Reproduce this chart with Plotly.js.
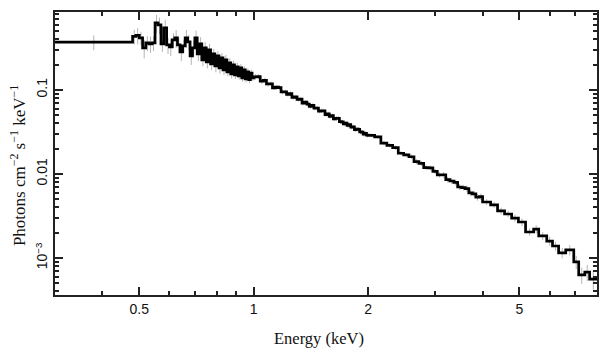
<!DOCTYPE html>
<html>
<head>
<meta charset="utf-8">
<script src="https://cdn.plot.ly/plotly-3.0.1.min.js"></script>
<style>
  html, body { margin: 0; padding: 0; background: #fff; }
  #chart { width: 609px; height: 357px; }
</style>
</head>
<body>
<div id="chart"></div>
<script>
// Bin edges (keV)
const binEdges = [
  0.30,
  0.48, 0.49, 0.50, 0.51, 0.52, 0.53, 0.54, 0.55, 0.56, 0.57, 0.58, 0.59, 0.60,
  0.61, 0.62, 0.63, 0.64, 0.65, 0.66, 0.67, 0.68, 0.69, 0.70, 0.71, 0.72, 0.73,
  0.74, 0.75, 0.76, 0.77, 0.78, 0.79, 0.80, 0.81, 0.82, 0.83, 0.84, 0.85, 0.86,
  0.87, 0.88, 0.89, 0.90, 0.91, 0.92, 0.93, 0.94, 0.95, 0.96, 0.97, 0.98, 0.99, 1.00,
  1.02, 1.04, 1.06, 1.08, 1.10, 1.12, 1.14, 1.16, 1.18, 1.20, 1.22, 1.24, 1.26,
  1.28, 1.30, 1.32, 1.34, 1.36, 1.38, 1.40, 1.42, 1.44, 1.46, 1.48, 1.50, 1.52,
  1.54, 1.56, 1.58, 1.60, 1.62, 1.64, 1.66, 1.68, 1.70, 1.72, 1.74, 1.76, 1.78,
  1.80, 1.82, 1.84, 1.86, 1.88, 1.90, 1.92, 1.94, 1.96, 1.98, 2.00,
  2.08, 2.16, 2.24, 2.32, 2.40, 2.48, 2.56, 2.64, 2.72, 2.80, 2.88, 2.96, 3.04,
  3.12, 3.20, 3.28, 3.36, 3.44, 3.52, 3.60, 3.68, 3.76, 3.84, 3.92, 4.00,
  4.20, 4.38, 4.57, 4.77, 4.97, 5.19, 5.45, 5.62, 5.90, 6.11, 6.34, 6.62, 6.95,
  7.16, 7.43, 7.65, 8.00
];

// Unfolded flux per bin (photons cm^-2 s^-1 keV^-1)
const fluxValues = [
  0.370,
  0.434, 0.446, 0.416, 0.316, 0.363, 0.353, 0.363, 0.627, 0.594, 0.353, 0.547, 0.343,
  0.325, 0.394, 0.416, 0.343, 0.283, 0.334, 0.416, 0.373, 0.254, 0.316,
  0.416, 0.268, 0.353, 0.228, 0.316, 0.215, 0.299, 0.204, 0.268, 0.193,
  0.254, 0.183, 0.240, 0.173, 0.228, 0.164, 0.210, 0.155, 0.199, 0.151,
  0.188, 0.147, 0.183, 0.139, 0.173, 0.135, 0.164, 0.132, 0.159, 0.139,
  0.143, 0.144, 0.127, 0.130, 0.1175, 0.1183, 0.1058, 0.1078, 0.1066, 0.0947,
  0.0947, 0.0885, 0.0905, 0.0813, 0.0824, 0.0771, 0.0775, 0.0697, 0.0715, 0.0678,
  0.0636, 0.0653, 0.0608, 0.0607, 0.0559, 0.0564, 0.0563, 0.0509, 0.0520, 0.0485,
  0.0494, 0.0453, 0.0458, 0.0459, 0.0420, 0.0417, 0.0394, 0.0403, 0.0377, 0.0386,
  0.0361, 0.0363, 0.0337, 0.0341, 0.0340, 0.0316, 0.0314, 0.0297, 0.0305, 0.0289,
  0.02880, 0.02757, 0.02333, 0.02190, 0.02056, 0.01764, 0.01688, 0.01602, 0.01401,
  0.01334, 0.01189, 0.01182, 0.01074, 0.00976, 0.00978, 0.00855, 0.00825, 0.00796,
  0.00700, 0.00689, 0.00668, 0.00597, 0.00581, 0.00528, 0.00537,
  0.00464, 0.00428, 0.00363, 0.00334, 0.00299, 0.00268, 0.00204, 0.00221, 0.00183,
  0.00159, 0.00139, 0.00115, 0.00125, 0.00090, 0.00063, 0.00068, 0.00056
];

// Fractional 1-sigma error per bin
const fluxErrFrac = [
  0.20,
  0.20, 0.22, 0.18, 0.25, 0.20, 0.22, 0.20, 0.24, 0.22, 0.20,
  0.25, 0.22, 0.22, 0.20, 0.24, 0.20, 0.22, 0.18, 0.24, 0.20,
  0.22, 0.20, 0.22, 0.18, 0.20, 0.16, 0.18, 0.16, 0.18, 0.16,
  0.15, 0.16, 0.14, 0.15, 0.14, 0.13, 0.14, 0.12, 0.13, 0.12,
  0.12, 0.11, 0.12, 0.10, 0.11, 0.10, 0.10, 0.09, 0.10, 0.09,
  0.09, 0.08,
  0.08, 0.07, 0.07, 0.07, 0.07, 0.06, 0.06, 0.06, 0.06, 0.06,
  0.06, 0.06, 0.06, 0.06, 0.06, 0.06, 0.06, 0.06, 0.06, 0.06,
  0.06, 0.06, 0.06, 0.06, 0.06, 0.06, 0.06, 0.06, 0.06, 0.06,
  0.06, 0.06, 0.06, 0.06, 0.06, 0.06, 0.06, 0.06, 0.06, 0.06,
  0.06, 0.06, 0.06, 0.06, 0.06, 0.06, 0.06, 0.06, 0.06, 0.06,
  0.05, 0.05, 0.06, 0.06, 0.06, 0.06, 0.06, 0.06, 0.07, 0.07,
  0.07, 0.07, 0.07, 0.07, 0.08, 0.08, 0.08, 0.08, 0.08, 0.08,
  0.09, 0.09, 0.09, 0.09, 0.09,
  0.08, 0.08, 0.09, 0.09, 0.10, 0.10, 0.10, 0.11, 0.11, 0.12,
  0.12, 0.14, 0.14, 0.18, 0.22, 0.22, 0.25
];

const xTickVals = [0.5, 1, 2, 5];
const xTickText = ['0.5', '1', '2', '5'];
const xMinorVals = [0.3, 0.4, 0.6, 0.7, 0.8, 0.9, 3, 4, 6, 7, 8];
const yTickVals = [0.001, 0.01, 0.1];
const yTickText = ['10<sup>\u22123</sup>', '0.01', '0.1'];
const yMinorVals = [0.0004, 0.0005, 0.0006, 0.0007, 0.0008, 0.0009,
  0.002, 0.003, 0.004, 0.005, 0.006, 0.007, 0.008, 0.009,
  0.02, 0.03, 0.04, 0.05, 0.06, 0.07, 0.08, 0.09,
  0.2, 0.3, 0.4, 0.5, 0.6, 0.7, 0.8];

const xRange = [0.3, 8.0];
const yRange = [3.63e-4, 0.845];
const xTitle = 'Energy (keV)';
const yTitle = 'Photons cm<sup>\u22122</sup> s<sup>\u22121</sup> keV<sup>\u22121</sup>';

// derived
const nBins = Math.min(fluxValues.length, binEdges.length - 1);
const flux = fluxValues.slice(0, nBins);
const edges = binEdges.slice(0, nBins + 1);
const centers = flux.map((v, i) => Math.sqrt(edges[i] * edges[i + 1]));
const errs = flux.map((v, i) => v * (fluxErrFrac[i] || 0.06));
const stepY = flux.concat([flux[flux.length - 1]]);

const errTrace = {
  x: centers, y: flux, type: 'scatter', mode: 'markers',
  marker: { size: 1, color: 'rgba(0,0,0,0)' },
  error_y: { type: 'data', array: errs, visible: true, color: '#b4b4b4', thickness: 1, width: 0 },
  hoverinfo: 'skip', showlegend: false
};
const stepTrace = {
  x: edges, y: stepY, type: 'scatter', mode: 'lines',
  line: { shape: 'hv', color: '#000', width: 2.7 },
  showlegend: false
};

const axisCommon = {
  showline: true, linewidth: 2, linecolor: '#222', mirror: 'allticks',
  ticks: 'inside', tickwidth: 2, tickcolor: '#222',
  showgrid: false, zeroline: false,
  tickfont: { family: 'Liberation Sans, Arial, sans-serif', size: 14, color: '#111' }
};
const serif = 'Liberation Serif, Times New Roman, serif';

const layout = {
  width: 609, height: 357,
  margin: { l: 55, r: 12, t: 12, b: 62 },
  paper_bgcolor: '#fff', plot_bgcolor: '#fff',
  showlegend: false,
  xaxis: Object.assign({}, axisCommon, {
    type: 'log', range: [Math.log10(xRange[0]), Math.log10(xRange[1])],
    tickmode: 'array', tickvals: xTickVals, ticktext: xTickText, ticklen: 8,
    minor: { tickmode: 'array', tickvals: xMinorVals, ticks: 'inside', ticklen: 4, tickwidth: 2, tickcolor: '#222' }
  }),
  yaxis: Object.assign({}, axisCommon, {
    type: 'log', range: [Math.log10(yRange[0]), Math.log10(yRange[1])],
    tickmode: 'array', tickvals: yTickVals, ticktext: yTickText, ticklen: 8,
    tickangle: -90,
    minor: { tickmode: 'array', tickvals: yMinorVals, ticks: 'inside', ticklen: 4, tickwidth: 2, tickcolor: '#222' }
  }),
  annotations: [
    { text: xTitle, xref: 'paper', yref: 'paper', x: 0.487, y: -0.155, xanchor: 'center', yanchor: 'middle',
      showarrow: false, font: { family: serif, size: 16.5, color: '#111' } },
    { text: yTitle, xref: 'paper', yref: 'paper', x: -0.068, y: 0.456, xanchor: 'center', yanchor: 'middle',
      textangle: -90, showarrow: false, font: { family: serif, size: 17, color: '#111' } }
  ]
};

Plotly.newPlot('chart', [errTrace, stepTrace], layout, { staticPlot: true, displayModeBar: false });
</script>
</body>
</html>
